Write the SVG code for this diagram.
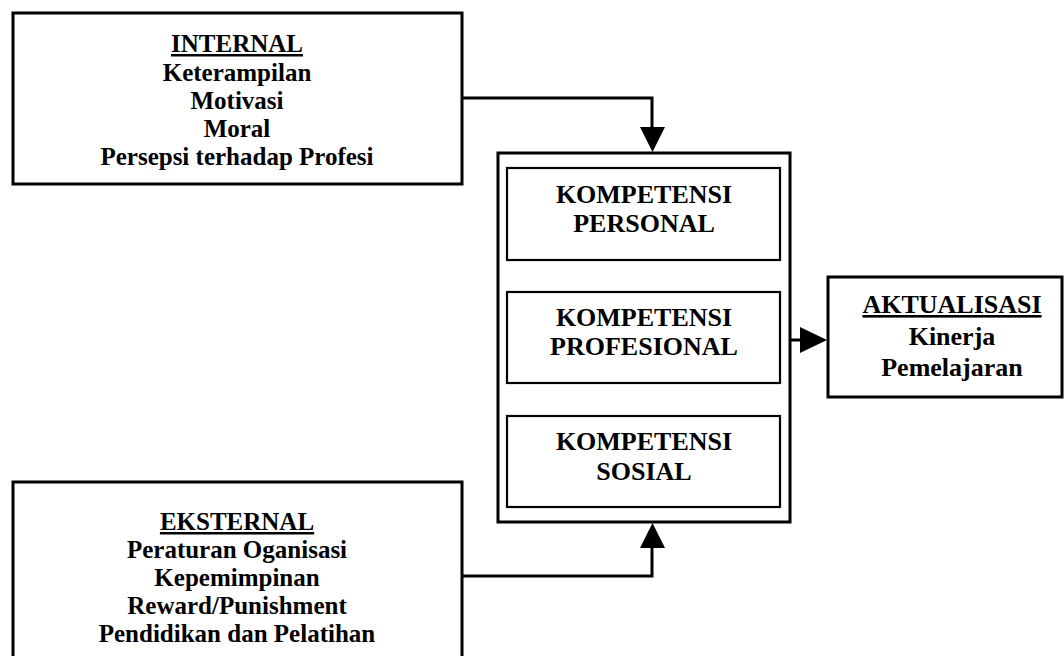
<svg xmlns="http://www.w3.org/2000/svg" width="1064" height="656" viewBox="0 0 1064 656">
<style>
.box{fill:#fff;stroke:#000;stroke-width:3}
.inner{fill:#fff;stroke:#000;stroke-width:2.2}
.t{font-family:"Liberation Serif","Times New Roman",serif;font-weight:bold;font-size:25px;fill:#000;text-anchor:middle}
.k{font-size:26px}
.u{text-decoration:underline}
.conn{fill:none;stroke:#000;stroke-width:3}
.head{fill:#000}
</style>
<rect width="1064" height="656" fill="#fff"/>
<g id="internal">
<rect class="box" x="13" y="13" width="449" height="171"/>
<text class="t u" x="237" y="52">INTERNAL</text>
<text class="t" x="237" y="81">Keterampilan</text>
<text class="t" x="237" y="109">Motivasi</text>
<text class="t" x="237" y="137">Moral</text>
<text class="t" x="237" y="165">Persepsi terhadap Profesi</text>
</g>
<g id="eksternal">
<rect class="box" x="13" y="482" width="449" height="176"/>
<text class="t u" x="237" y="530">EKSTERNAL</text>
<text class="t" x="237" y="558">Peraturan Oganisasi</text>
<text class="t" x="237" y="586">Kepemimpinan</text>
<text class="t" x="237" y="614">Reward/Punishment</text>
<text class="t" x="237" y="642">Pendidikan dan Pelatihan</text>
</g>
<g id="kompetensi">
<rect class="box" x="498" y="153" width="292" height="369"/>
</g>
<g id="personal">
<rect class="inner" x="507" y="168" width="273" height="92"/>
<text class="t k" x="644" y="203">KOMPETENSI</text>
<text class="t k" x="644" y="232">PERSONAL</text>
</g>
<g id="profesional">
<rect class="inner" x="507" y="292" width="273" height="91"/>
<text class="t k" x="644" y="326">KOMPETENSI</text>
<text class="t k" x="644" y="355">PROFESIONAL</text>
</g>
<g id="sosial">
<rect class="inner" x="507" y="416" width="273" height="91"/>
<text class="t k" x="644" y="450">KOMPETENSI</text>
<text class="t k" x="644" y="480">SOSIAL</text>
</g>
<g id="aktualisasi">
<rect class="box" x="828" y="277" width="234" height="120"/>
<text class="t u k" x="952" y="313">AKTUALISASI</text>
<text class="t k" x="952" y="345">Kinerja</text>
<text class="t k" x="952" y="376">Pemelajaran</text>
</g>
<g id="connectors">
<path class="conn" d="M462 98 H652 V128"/>
<polygon class="head" points="640,127 665,127 652.5,152"/>
<path class="conn" d="M462 576 H652 V546"/>
<polygon class="head" points="640,548 665,548 652.5,523"/>
<path class="conn" d="M790 340 H801"/>
<polygon class="head" points="800,327 800,353 827,340"/>
</g>
</svg>
